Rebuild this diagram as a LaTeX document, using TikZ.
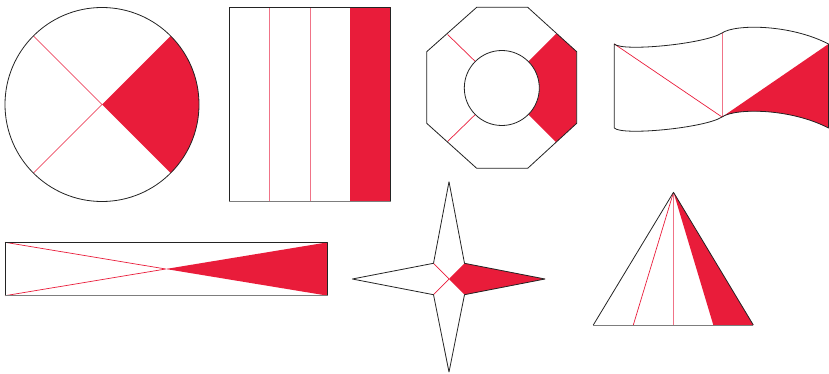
\documentclass[tikz,border=0pt]{standalone}
\usepackage{tikz}
\definecolor{rd}{RGB}{233,28,58}
\definecolor{pk}{RGB}{240,115,135}
\definecolor{ol}{RGB}{35,35,35}
\definecolor{gy}{RGB}{125,125,125}
\begin{document}
\begin{tikzpicture}[x=1pt, y=-1pt, line join=round,
    outline/.style={ol, line width=0.8pt},
    redline/.style={rd, line width=0.7pt},
    pinkline/.style={pk, line width=1pt}]
\useasboundingbox (0,0) rectangle (829,374);

% ════════════════════════════════════════════════
%  TOP ROW
% ════════════════════════════════════════════════

% Circle, one quarter shaded
\fill[rd] (102,104.5) -- ++(-45:97) arc[start angle=-45, end angle=45, radius=97] -- cycle;
\draw[redline] (102,104.5) -- ++(135:97);
\draw[redline] (102,104.5) -- ++(225:97);
\draw[outline] (102,104.5) circle[radius=97];

% Rectangle in four strips
\fill[rd] (350.3,7.3) rectangle (390.7,201);
\foreach \x in {269.7,310}{
    \draw[pinkline] (\x,7.3) -- (\x,201);
}
\draw[outline] (229.3,201) -- (229.3,7.3) -- (390.7,7.3) -- (390.7,201);
\draw[gy, line width=0.9pt] (229.3,201) -- (390.7,201);

% Octagon ring
\begin{scope}
    \clip (476.7,7.3) -- (527.7,7.3) -- (576.7,51.7) -- (576.7,123.3)
        -- (527.7,168.3) -- (476.7,168.3) -- (426.7,123.3) -- (426.7,51.7) -- cycle;
    \fill[rd] (501.8,88) -- ++(100,-100) -- ++(0,200) -- cycle;
\end{scope}
\fill[white] (501.8,88) circle[radius=37.5];
\draw[redline] (475.3,61.5) -- (447.6,34.5);
\draw[redline] (475.3,114.5) -- (447.6,141.5);
\draw[outline] (501.8,88) circle[radius=37.5];
\draw[outline] (476.7,7.3) -- (527.7,7.3) -- (576.7,51.7) -- (576.7,123.3)
    -- (527.7,168.3) -- (476.7,168.3) -- (426.7,123.3) -- (426.7,51.7) -- cycle;

% Waving flag
\fill[rd] (722,117) -- (828.5,44) -- (828.5,128)
    .. controls (790,108) and (735,108) .. (722,117) -- cycle;
\draw[redline] (614.3,44) -- (722,117);
\draw[pinkline] (722,33) -- (722,117);
\draw[outline] (614.3,44) .. controls (622,52) and (705,44) .. (722,33)
    .. controls (735,24) and (790,24) .. (828.5,44) -- (828.5,128)
    .. controls (790,108) and (735,108) .. (722,117)
    .. controls (705,128) and (622,136) .. (614.3,128) -- cycle;

% ════════════════════════════════════════════════
%  BOTTOM ROW
% ════════════════════════════════════════════════

% Long rectangle with crossed diagonals
\fill[rd] (165.7,269) -- (327.7,242.3) -- (327.7,295.7) -- cycle;
\draw[redline] (5,242.3) -- (165.7,269) -- (5,295.7);
\draw[outline] (5,295.7) -- (5,242.3) -- (327.7,242.3) -- (327.7,295.7);
\draw[gy, line width=0.9pt] (5,295.7) -- (327.7,295.7);

% Four-pointed star
\fill[rd] (449,279) -- (464.5,263.3) -- (545,279) -- (464.5,294.7) -- cycle;
\draw[redline] (433.5,263.3) -- (449,279) -- (433.5,294.7);
\draw[outline] (449,181.7) -- (464.5,263.3) -- (545,279) -- (464.5,294.7)
    -- (449,372) -- (433.5,294.7) -- (352.3,279) -- (433.5,263.3) -- cycle;

% Triangle split into four
\fill[rd] (673.5,192.3) -- (713.3,325) -- (753.3,325) -- cycle;
\draw[redline] (673.5,192.3) -- (633.3,325);
\draw[pinkline] (673.5,192.3) -- (673.5,325);
\draw[outline] (593.3,325) -- (673.5,192.3) -- (753.3,325);
\draw[gy, line width=0.9pt] (593.3,325) -- (753.3,325);

\end{tikzpicture}
\end{document}
